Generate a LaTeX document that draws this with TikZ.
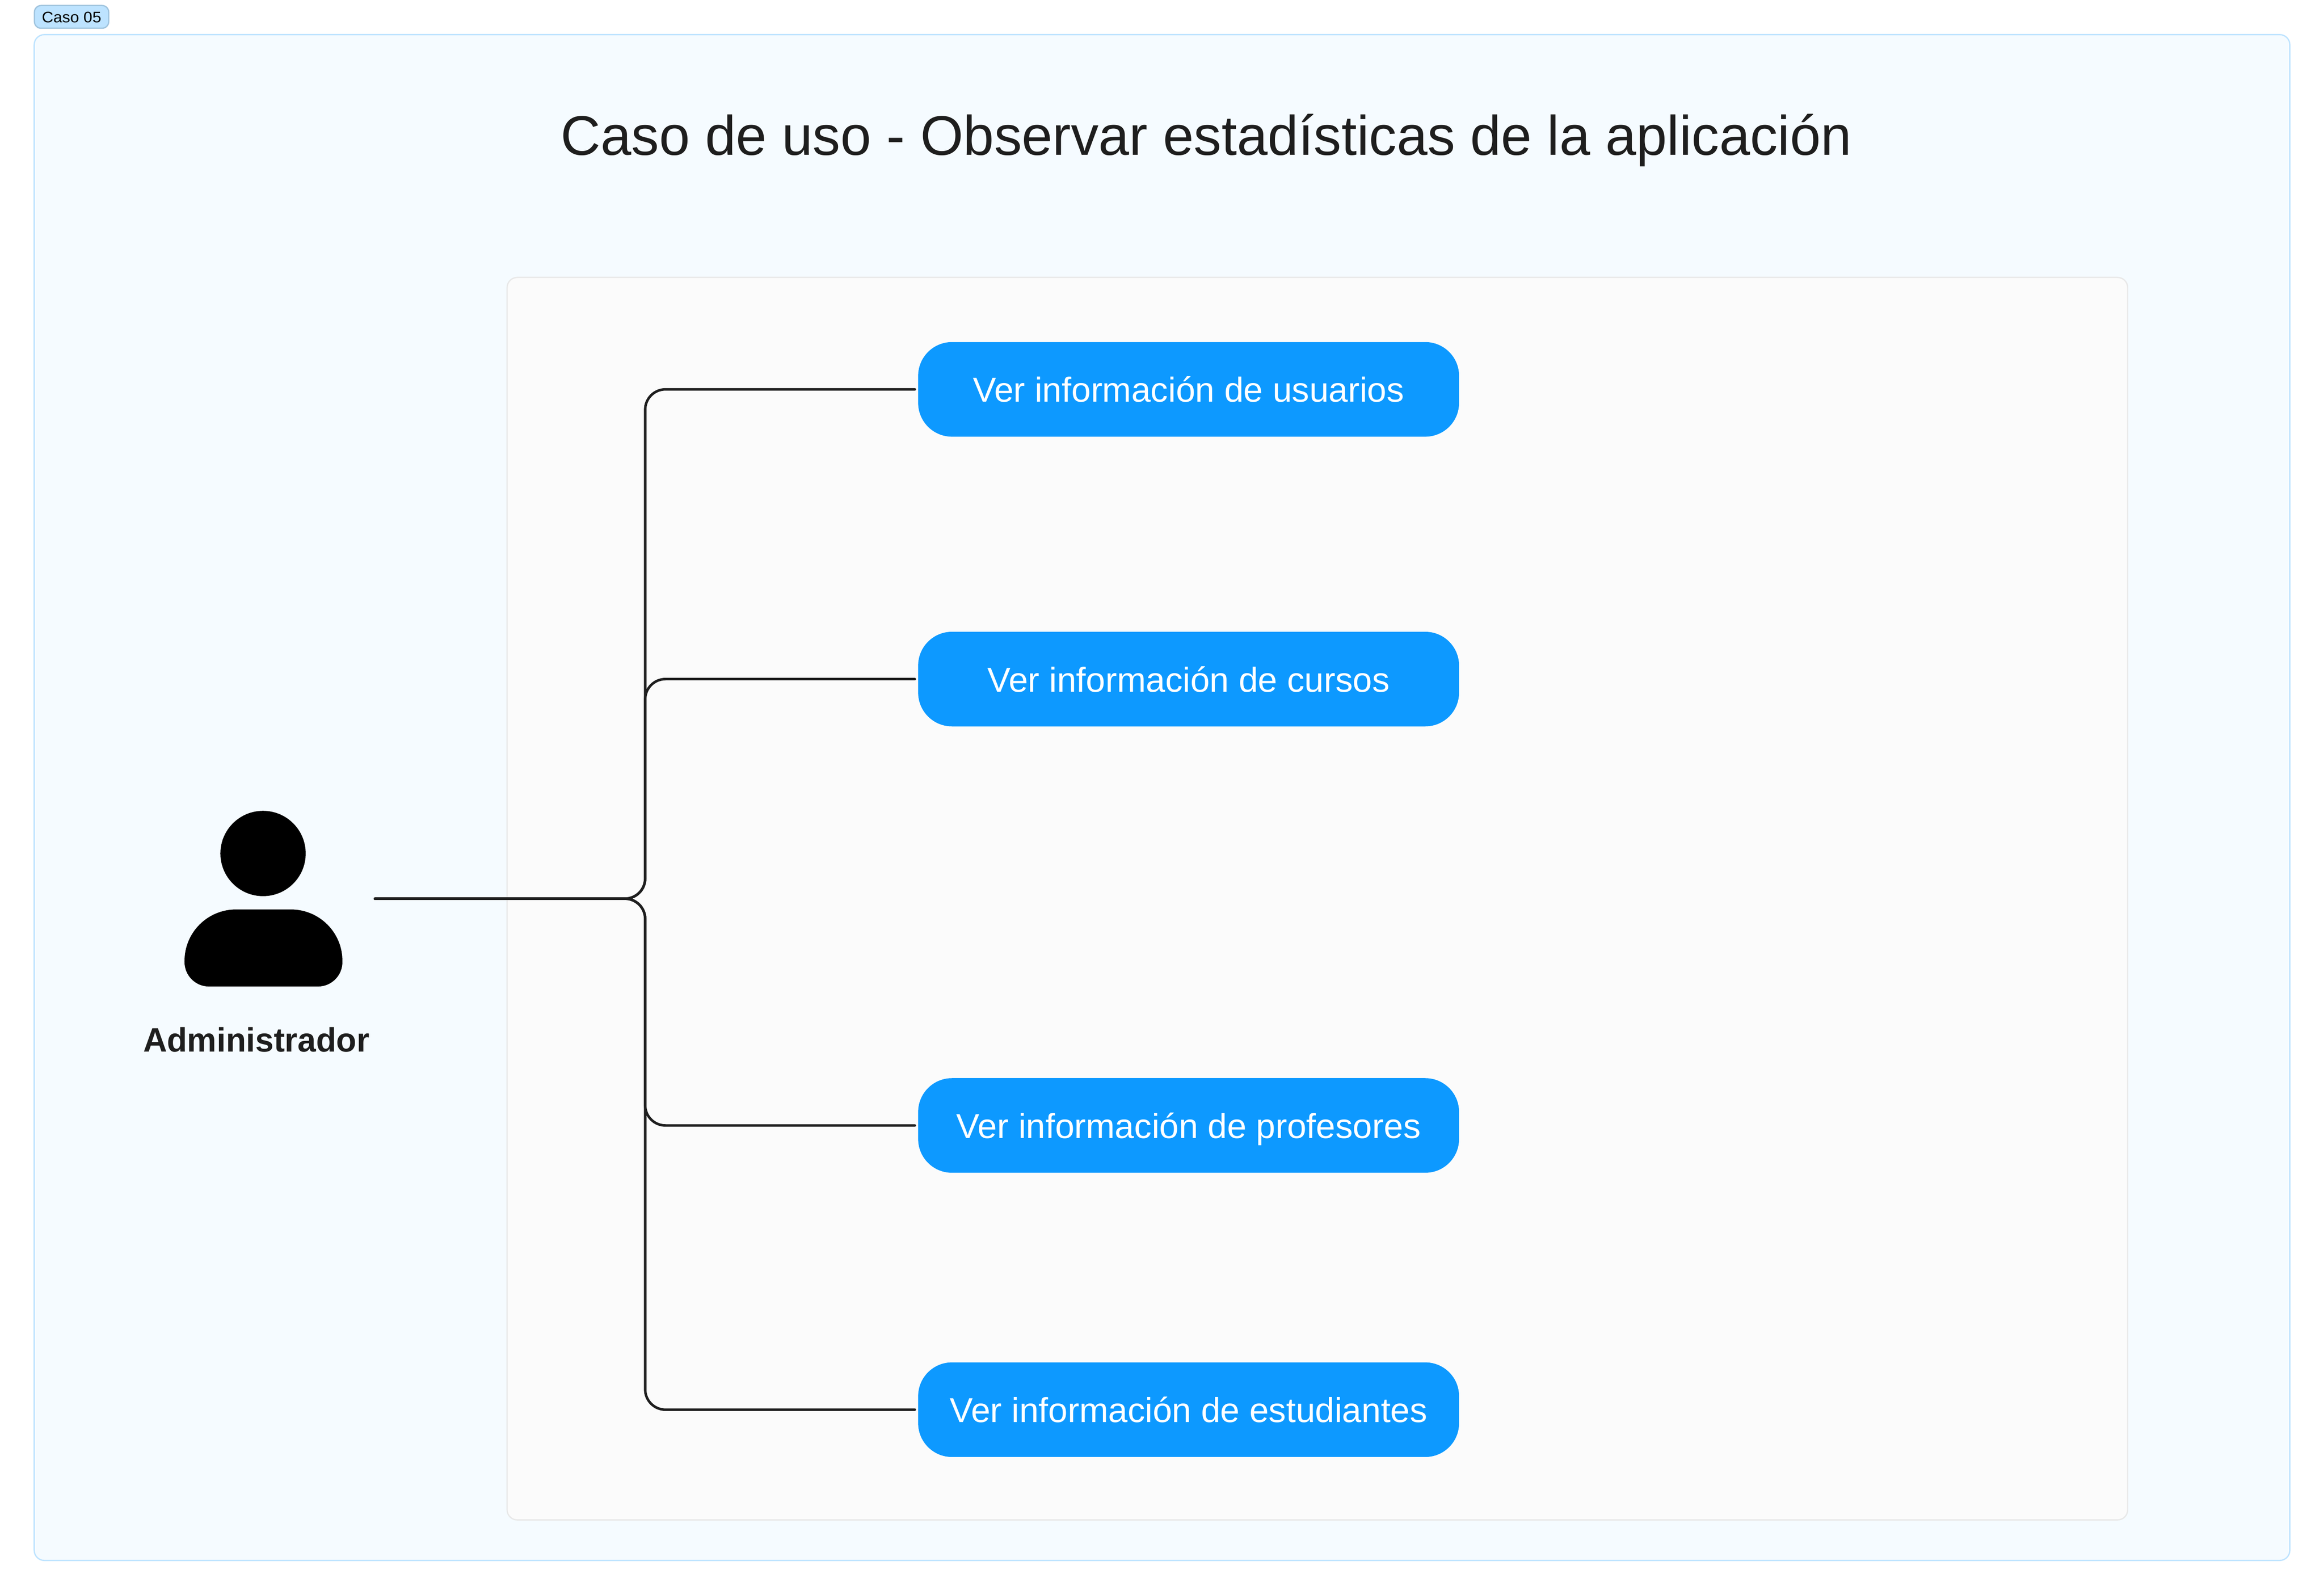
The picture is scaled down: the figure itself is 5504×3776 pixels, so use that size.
\documentclass[tikz,border=0pt]{standalone}
\usepackage{fontspec}
\setmainfont{Liberation Sans}
\definecolor{framefill}{HTML}{F5FBFF}
\definecolor{frameline}{HTML}{BDE3FF}
\definecolor{tagline}{HTML}{A0C4DE}
\definecolor{innerfill}{HTML}{FBFBFB}
\definecolor{innerline}{HTML}{E8E8E8}
\definecolor{ink}{HTML}{1E1E1E}
\definecolor{usecase}{HTML}{0D99FF}
\tikzset{
  frame/.style={draw=frameline,fill=framefill,line width=0.75pt,rounded corners=6pt},
  panel/.style={draw=innerline,fill=innerfill,line width=0.75pt,rounded corners=6pt},
  usecasebox/.style={rectangle,fill=usecase,text=white,rounded corners=20pt,minimum width=320.25pt,minimum height=56pt,inner sep=0pt,outer sep=2pt,text height=15pt,text depth=0pt,font=\fontsize{20.5}{24}\selectfont\addfontfeature{FakeStretch=1.005}},
  link/.style={draw=ink,line width=1.5pt,rounded corners=12pt,line cap=round},
}
\begin{document}
\begin{tikzpicture}[x=0.25pt,y=-0.25pt]
\useasboundingbox (0,0) rectangle (5504,3776);
\fill[white] (0,0) rectangle (5504,3776);
\draw[frame] (81,82) rectangle (5423,3695);
\node[rectangle,draw=tagline,fill=frameline,line width=0.75pt,rounded corners=4pt,minimum width=44pt,minimum height=13.5pt,inner sep=0pt,text=black,text height=6.5pt,text depth=0pt,font=\fontsize{9}{10}\selectfont\addfontfeature{FakeStretch=1.05}] (tag) at (169.5,40) {Caso 05};
\draw[panel] (1201,657) rectangle (5039,3599);
\node[inner sep=0pt,text=ink,anchor=base,font=\fontsize{33}{38}\selectfont\addfontfeature{FakeStretch=0.992}] (title) at (2857,367) {Caso de uso - Observar estadísticas de la aplicación};
\node[usecasebox] (u1) at (2815,922) {Ver información de usuarios};
\node[usecasebox] (u2) at (2815,1608) {Ver información de cursos};
\node[usecasebox] (u3) at (2815,2665) {Ver información de profesores};
\node[usecasebox] (u4) at (2815,3338) {Ver información de estudiantes};
\node[circle,fill=black,minimum size=50.5pt,inner sep=0pt] (head) at (623,2021) {};
\fill[black] (437,2275.5) .. controls (437,2208) and (491.6,2153.5) .. (559,2153.5) -- (689,2153.5) .. controls (756.4,2153.5) and (811,2208) .. (811,2275.5) -- (811,2278) .. controls (811,2310) and (785,2336) .. (753,2336) -- (495,2336) .. controls (463,2336) and (437,2310) .. (437,2278) -- cycle;
\node[inner sep=0pt,text=ink,anchor=base,font=\fontsize{20}{24}\selectfont\bfseries\addfontfeature{FakeStretch=0.98}] (admin) at (607,2490) {Administrador};
\coordinate (start) at (888,2128);
\coordinate (trunk) at (1528,2128);
\draw[link] (start) -- (trunk) |- (u1.west);
\draw[link] (start) -- (trunk) |- (u2.west);
\draw[link] (start) -- (trunk) |- (u3.west);
\draw[link] (start) -- (trunk) |- (u4.west);
\end{tikzpicture}
\end{document}
